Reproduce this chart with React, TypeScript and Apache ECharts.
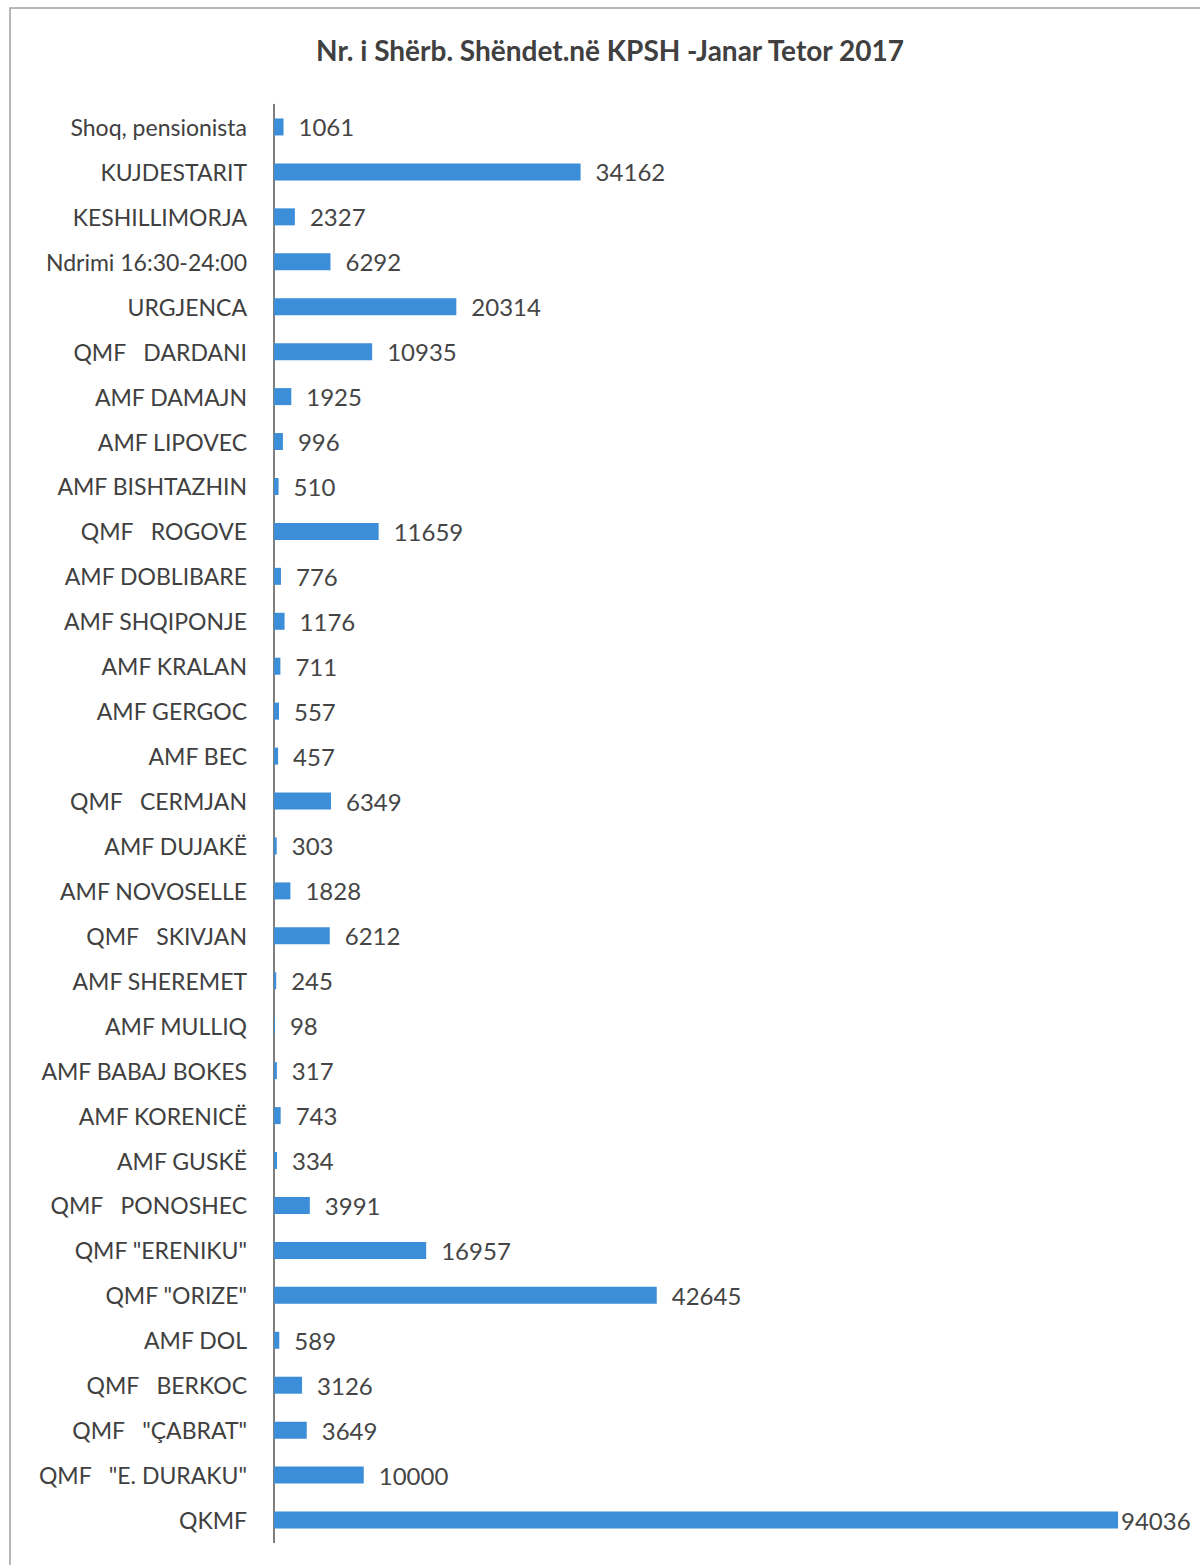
import React, { useEffect, useRef } from "react";
import * as echarts from "echarts";

const categories: string[] = [
  "Shoq, pensionista",
  "KUJDESTARIT",
  "KESHILLIMORJA",
  "Ndrimi 16:30-24:00",
  "URGJENCA",
  "QMF   DARDANI",
  "AMF DAMAJN",
  "AMF LIPOVEC",
  "AMF BISHTAZHIN",
  "QMF   ROGOVE",
  "AMF DOBLIBARE",
  "AMF SHQIPONJE",
  "AMF KRALAN",
  "AMF GERGOC",
  "AMF BEC",
  "QMF   CERMJAN",
  "AMF DUJAKË",
  "AMF NOVOSELLE",
  "QMF   SKIVJAN",
  "AMF SHEREMET",
  "AMF MULLIQ",
  "AMF BABAJ BOKES",
  "AMF KORENICË",
  "AMF GUSKË",
  "QMF   PONOSHEC",
  "QMF \"ERENIKU\"",
  "QMF \"ORIZE\"",
  "AMF DOL",
  "QMF   BERKOC",
  "QMF   \"ÇABRAT\"",
  "QMF   \"E. DURAKU\"",
  "QKMF",
];

const values: number[] = [
  1061, 34162, 2327, 6292, 20314, 10935, 1925, 996, 510, 11659, 776, 1176, 711,
  557, 457, 6349, 303, 1828, 6212, 245, 98, 317, 743, 334, 3991, 16957, 42645,
  589, 3126, 3649, 10000, 94036,
];

const title = "Nr. i Shërb. Shëndet.në KPSH -Janar Tetor 2017";

export default function App() {
  const ref = useRef<HTMLDivElement>(null);
  useEffect(() => {
    if (!ref.current) return;
    const chart = echarts.init(ref.current, null, { renderer: "svg" });
    const maxVal = Math.max(...values);
    const barData = values.map((v) =>
      v === maxVal ? { value: v, label: { distance: 3 } } : v
    );
    chart.setOption({
      animation: false,
      backgroundColor: "#ffffff",
      textStyle: { fontFamily: "Lato" },
      title: {
        text: title,
        left: 605,
        top: 31,
        textAlign: "center",
        textStyle: {
          fontFamily: "Lato",
          fontSize: 28,
          fontWeight: "bold",
          color: "#404040",
        },
      },
      graphic: [
        {
          type: "rect",
          shape: { x: 10, y: 8, width: 1200, height: 1600 },
          style: { fill: "none", stroke: "#a0a0a0", lineWidth: 1.5 },
          silent: true,
        },
      ],
      grid: { left: 274, top: 104.5, width: 915.5, height: 1438 },
      xAxis: {
        type: "value",
        min: 0,
        max: 102000,
        show: false,
      },
      yAxis: {
        type: "category",
        inverse: true,
        data: categories,
        axisLine: { show: true, lineStyle: { color: "#555555", width: 1.5 } },
        axisTick: { show: false },
        axisLabel: {
          color: "#404040",
          fontFamily: "Lato",
          fontSize: 23,
          margin: 27,
        },
      },
      series: [
        {
          type: "bar",
          data: barData,
          barWidth: 17,
          itemStyle: { color: "#3d8ed8" },
          label: {
            show: true,
            position: "right",
            distance: 15,
            color: "#454545",
            fontFamily: "Lato",
            fontSize: 24,
          },
        },
      ],
    });
    return () => chart.dispose();
  }, []);
  return (
    <div
      ref={ref}
      style={{ position: "absolute", left: 0, top: 0, width: 1200, height: 1565 }}
    />
  );
}
